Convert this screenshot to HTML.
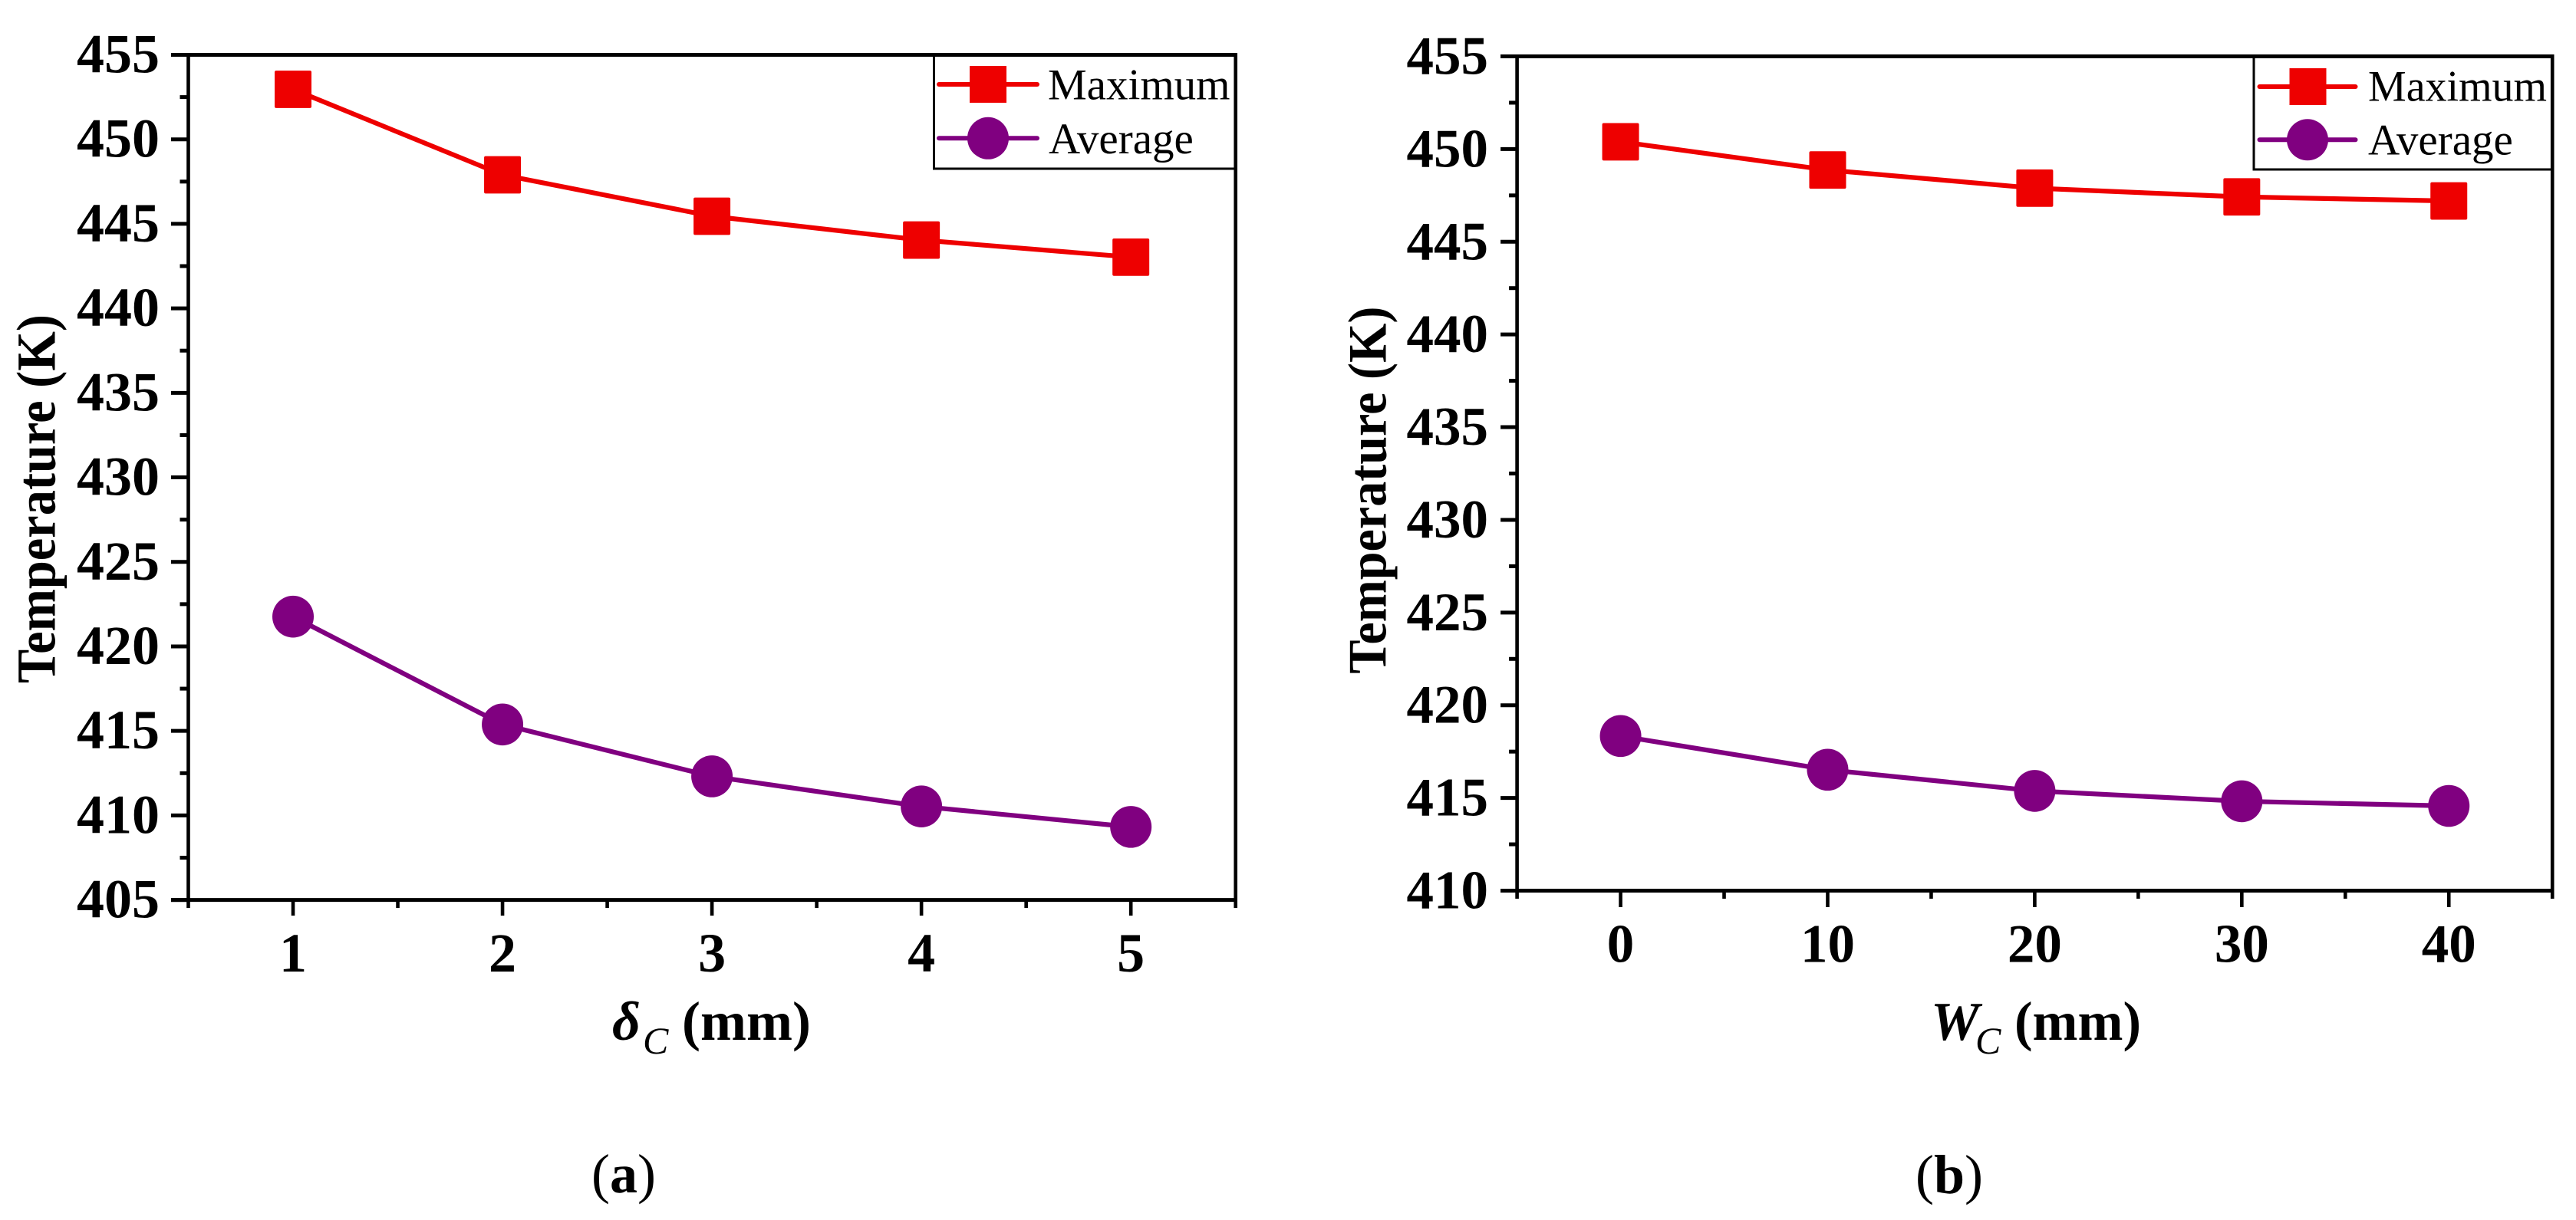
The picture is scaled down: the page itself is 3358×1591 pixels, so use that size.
<!DOCTYPE html>
<html lang="en">
<head>
<meta charset="utf-8">
<title>Temperature vs. channel dimensions</title>
<style>
html,body{margin:0;padding:0;background:#fff;width:3358px;height:1591px;overflow:hidden}
svg{display:block}
text{font-family:"Liberation Serif","DejaVu Serif",serif;fill:#000}
.b{font-weight:bold}
.lg{font-size:57px}
</style>
</head>
<body>
<svg id="fig" xmlns="http://www.w3.org/2000/svg" width="3358" height="1591" viewBox="0 0 3358 1591">
  <rect width="3358" height="1591" fill="#fff"/>

  <g id="panelA"></g>
  <g id="panelB"></g>

  <text class="b" font-size="72" textLength="481" lengthAdjust="spacingAndGlyphs" transform="translate(71.7,891) rotate(-90)">Temperature (K)</text>
  <text class="b" font-size="71" textLength="479" lengthAdjust="spacingAndGlyphs" transform="translate(1806.7,878.6) rotate(-90)">Temperature (K)</text>

  <text class="b" font-size="72" font-style="italic" x="798" y="1356">δ</text>
  <text font-size="50" font-style="italic" x="838" y="1374">C</text>
  <text class="b" font-size="72" x="889" y="1356" textLength="168" lengthAdjust="spacingAndGlyphs">(mm)</text>

  <text class="b" font-size="71" font-style="italic" x="2517" y="1356">W</text>
  <text font-size="50" font-style="italic" x="2575" y="1374">C</text>
  <text class="b" font-size="72" x="2626" y="1356" textLength="165" lengthAdjust="spacingAndGlyphs">(mm)</text>

  <text font-size="72" x="771" y="1555">(<tspan class="b">a</tspan>)</text>
  <text font-size="72" x="2497" y="1556">(<tspan class="b">b</tspan>)</text>

  <g>
    <rect x="1217.5" y="71.5" width="393" height="148.5" fill="none" stroke="#000" stroke-width="3"/>
    <g>
      <line x1="1224" y1="110" x2="1352" y2="110" stroke="#ee0000" stroke-width="6" stroke-linecap="round"/>
      <rect x="1264" y="86" width="48" height="48" fill="#ee0000"/>
      <text class="lg" x="1366" y="129.5">Maximum</text>
    </g>
    <g>
      <line x1="1224" y1="180.3" x2="1352" y2="180.3" stroke="#800080" stroke-width="6" stroke-linecap="round"/>
      <ellipse cx="1288" cy="180.3" rx="27" ry="27.5" fill="#800080"/>
      <text class="lg" x="1367" y="200">Average</text>
    </g>
  </g>

  <g>
    <rect x="2938" y="73.5" width="389" height="147.5" fill="none" stroke="#000" stroke-width="3"/>
    <g>
      <line x1="2945.5" y1="113" x2="3070.5" y2="113" stroke="#ee0000" stroke-width="6" stroke-linecap="round"/>
      <rect x="2984.5" y="89" width="48" height="48" fill="#ee0000"/>
      <text class="lg" x="3087" y="131.7" textLength="233" lengthAdjust="spacingAndGlyphs">Maximum</text>
    </g>
    <g>
      <line x1="2945.5" y1="182.3" x2="3070.5" y2="182.3" stroke="#800080" stroke-width="6" stroke-linecap="round"/>
      <ellipse cx="3008" cy="182.3" rx="27" ry="27" fill="#800080"/>
      <text class="lg" x="3087" y="201.7">Average</text>
    </g>
  </g>
</svg>

<script>
var categoriesA = [1, 2, 3, 4, 5];
var maximumA = [452.96, 447.9, 445.45, 444.04, 443.03];
var averageA = [421.76, 415.38, 412.31, 410.53, 409.32];
var yTicksA = [405, 410, 415, 420, 425, 430, 435, 440, 445, 450, 455];
var xTicksA = [1, 2, 3, 4, 5];
var xMinorTicksA = [0.5, 1.5, 2.5, 3.5, 4.5, 5.5];
var yDomainA = [405, 455];
var xDomainA = [0.5, 5.5];

var categoriesB = [0, 10, 20, 30, 40];
var maximumB = [450.39, 448.87, 447.89, 447.42, 447.2];
var averageB = [418.34, 416.52, 415.38, 414.82, 414.57];
var yTicksB = [410, 415, 420, 425, 430, 435, 440, 445, 450, 455];
var xTicksB = [0, 10, 20, 30, 40];
var xMinorTicksB = [-5, 5, 15, 25, 35, 45];
var yDomainB = [410, 455];
var xDomainB = [-5, 45];

var NS = 'http://www.w3.org/2000/svg';
var RED = '#ee0000';
var PURPLE = '#800080';

function make(parent, tag, props) {
  var el = document.createElementNS(NS, tag);
  for (var k in props) {
    el.setAttribute(k, props[k]);
  }
  parent.appendChild(el);
  return el;
}

function drawPanel(g, id, box, cats, maxV, avgV, xTicks, xMinor, yTicks, xDom, yDom) {
  function sx(v) { return box.l + (v - xDom[0]) / (xDom[1] - xDom[0]) * (box.r - box.l); }
  function sy(v) { return box.b - (v - yDom[0]) / (yDom[1] - yDom[0]) * (box.b - box.t); }

  var el;

  el = make(g, 'line', { x1: box.l, y1: box.t - 2.5, x2: box.l, y2: box.b + 2.5, stroke: '#000', 'stroke-width': 4.6 });
  
  

  el = make(g, 'line', { x1: box.r, y1: box.t - 2.5, x2: box.r, y2: box.b + 2.5, stroke: '#000', 'stroke-width': 4.6 });
  
  

  el = make(g, 'line', { x1: box.l - box.major, y1: box.t, x2: box.r + 2.3, y2: box.t, stroke: '#000', 'stroke-width': 5 });
  
  

  el = make(g, 'line', { x1: box.l - box.major, y1: box.b, x2: box.r + 2.3, y2: box.b, stroke: '#000', 'stroke-width': 5 });
  
  

  yTicks.forEach(function (v, i) {
    var y = sy(v);
    var tick = make(g, 'line', { x1: box.l - box.major, y1: y, x2: box.l, y2: y, stroke: '#000', 'stroke-width': 5 });
    
    

    var lab = make(g, 'text', { x: box.yLabelX, y: y + 23, 'text-anchor': 'end', 'font-size': box.font, 'font-weight': 'bold' });
    
    
    lab.textContent = v;

    if (i < yTicks.length - 1) {
      var my = sy((v + yTicks[i + 1]) / 2);
      var minor = make(g, 'line', { x1: box.l - box.minor, y1: my, x2: box.l, y2: my, stroke: '#000', 'stroke-width': 5 });
      
      
    }
  });

  xTicks.forEach(function (v) {
    var x = sx(v);
    var tick = make(g, 'line', { x1: x, y1: box.b, x2: x, y2: box.b + box.majorX, stroke: '#000', 'stroke-width': 4.6 });
    
    

    var lab = make(g, 'text', { x: x, y: box.xLabelY, 'text-anchor': 'middle', 'font-size': box.font, 'font-weight': 'bold' });
    
    
    lab.textContent = v;
  });

  xMinor.forEach(function (v) {
    var x = sx(v);
    var tick = make(g, 'line', { x1: x, y1: box.b, x2: x, y2: box.b + box.minorX, stroke: '#000', 'stroke-width': 4.6 });
    
    
  });

  var maxPts = cats.map(function (c, i) { return sx(c) + ',' + sy(maxV[i]); }).join(' ');
  var avgPts = cats.map(function (c, i) { return sx(c) + ',' + sy(avgV[i]); }).join(' ');

  el = make(g, 'polyline', { points: maxPts, fill: 'none', stroke: RED, 'stroke-width': 6.2 });
  
  

  el = make(g, 'polyline', { points: avgPts, fill: 'none', stroke: PURPLE, 'stroke-width': 6.2 });
  
  

  cats.forEach(function (c, i) {
    var sq = make(g, 'rect', { x: sx(c) - 24, y: sy(maxV[i]) - 24.4, width: 48, height: 48.8, rx: 2, fill: RED });
    
    

    var dot = make(g, 'ellipse', { cx: sx(c), cy: sy(avgV[i]), rx: 27, ry: 27.3, fill: PURPLE });
    
    
  });
}

drawPanel(document.getElementById('panelA'), 'a',
  { l: 245.5, r: 1610.7, t: 71.5, b: 1173.6, major: 22.5, minor: 11, majorX: 20.5, minorX: 10.5, yLabelX: 208, xLabelY: 1267, font: 72 },
  categoriesA, maximumA, averageA, xTicksA, xMinorTicksA, yTicksA, xDomainA, yDomainA);

drawPanel(document.getElementById('panelB'), 'b',
  { l: 1977.6, r: 3327.2, t: 73.5, b: 1161.5, major: 21.5, minor: 10.5, majorX: 21.5, minorX: 10.5, yLabelX: 1940, xLabelY: 1254.7, font: 71 },
  categoriesB, maximumB, averageB, xTicksB, xMinorTicksB, yTicksB, xDomainB, yDomainB);
</script>
</body>
</html>
